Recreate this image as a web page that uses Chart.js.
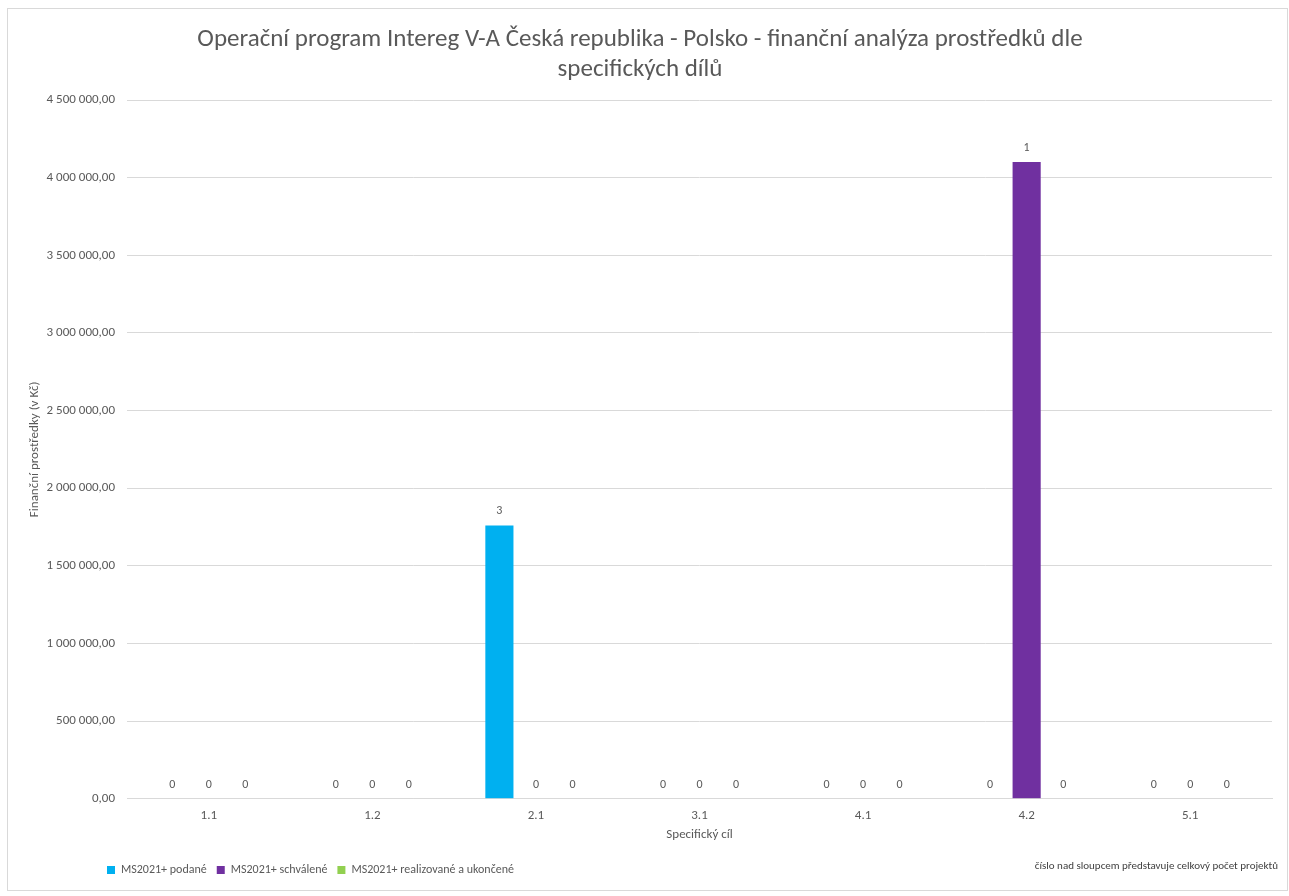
<!DOCTYPE html>
<html>
<head>
<meta charset="utf-8">
<script src="https://cdn.jsdelivr.net/npm/chart.js@4/dist/chart.umd.min.js"></script>
<style>
    body { margin: 0; background: #ffffff; }
    .chart-box {
        position: absolute;
        left: 7px;
        top: 8px;
        width: 1279px;
        height: 881px;
        border: 1px solid #d9d9d9;
    }
</style>
</head>
<body>
<div class="chart-box">
    <canvas id="cil-chart" width="1279" height="881"></canvas>
</div>
<script>
const categories = ["1.1", "1.2", "2.1", "3.1", "4.1", "4.2", "5.1"];

const podaneValues = [0, 0, 1760000, 0, 0, 0, 0];
const schvaleneValues = [0, 0, 0, 0, 0, 4100000, 0];
const realizovaneValues = [0, 0, 0, 0, 0, 0, 0];

// number of projects shown above each bar
const podaneCounts = [0, 0, 3, 0, 0, 0, 0];
const schvaleneCounts = [0, 0, 0, 0, 0, 1, 0];
const realizovaneCounts = [0, 0, 0, 0, 0, 0, 0];

const titleLines = [
    "Operační program Intereg V-A Česká republika - Polsko - finanční analýza prostředků dle",
    "specifických dílů"
];
const noteText = "číslo nad sloupcem představuje celkový počet projektů";

const fontFamily = "Carlito, 'Liberation Sans Narrow', 'Open Sans', sans-serif";
const textColor = "#595959";

function formatCz(value) {
    const parts = value.toFixed(2).split(".");
    const intPart = parts[0].replace(/\B(?=(\d{3})+(?!\d))/g, " ");
    return intPart + "," + parts[1];
}

const countLabels = {
    id: "countLabels",
    afterDatasetsDraw(chart) {
        const ctx = chart.ctx;
        ctx.save();
        ctx.font = "12px " + fontFamily;
        ctx.fillStyle = textColor;
        ctx.textAlign = "center";
        ctx.textBaseline = "middle";
        chart.data.datasets.forEach((dataset, i) => {
            const meta = chart.getDatasetMeta(i);
            meta.data.forEach((bar, j) => {
                ctx.fillText(String(dataset.counts[j]), bar.x, bar.y - 14);
            });
        });
        ctx.restore();
    }
};

const footNote = {
    id: "footNote",
    afterLayout(chart) {
        // Excel legend starts a bit to the right
        chart.legend.left += 89;
    },
    afterDraw(chart) {
        const ctx = chart.ctx;
        ctx.save();
        ctx.font = "11px " + fontFamily;
        ctx.fillStyle = "#404040";
        ctx.textAlign = "right";
        ctx.textBaseline = "middle";
        ctx.fillText(noteText, 1270, 857);
        ctx.restore();
    }
};

const ctx = document.getElementById("cil-chart").getContext("2d");

new Chart(ctx, {
    type: "bar",
    data: {
        labels: categories,
        datasets: [{
            label: "MS2021+ podané",
            data: podaneValues,
            counts: podaneCounts,
            backgroundColor: "#00B0F0"
        }, {
            label: "MS2021+ schválené",
            data: schvaleneValues,
            counts: schvaleneCounts,
            backgroundColor: "#7030A0"
        }, {
            label: "MS2021+ realizované a ukončené",
            data: realizovaneValues,
            counts: realizovaneCounts,
            backgroundColor: "#92D050"
        }]
    },
    options: {
        responsive: false,
        animation: false,
        categoryPercentage: 0.67,
        barPercentage: 0.77,
        layout: {
            padding: { left: 0, right: 15, top: 0, bottom: 4 }
        },
        plugins: {
            title: {
                display: true,
                text: titleLines,
                color: textColor,
                padding: { top: 16, bottom: 15 },
                font: {
                    size: 25,
                    family: fontFamily,
                    weight: "normal",
                    lineHeight: 1.2
                }
            },
            legend: {
                position: "bottom",
                align: "start",
                labels: {
                    boxWidth: 8,
                    boxHeight: 8,
                    color: textColor,
                    padding: 10,
                    font: {
                        size: 12,
                        family: fontFamily
                    }
                }
            },
            tooltip: { enabled: false }
        },
        scales: {
            x: {
                grid: { display: false },
                border: { color: "#d9d9d9", width: 1 },
                ticks: {
                    color: textColor,
                    padding: 1,
                    font: { size: 13, family: fontFamily }
                },
                title: {
                    display: true,
                    text: "Specifický cíl",
                    color: textColor,
                    padding: { top: 3, bottom: 11 },
                    font: { size: 13, family: fontFamily }
                }
            },
            y: {
                min: 0,
                max: 4500000,
                afterFit: scale => { scale.width = 119; },
                grid: {
                    color: "#d9d9d9",
                    drawTicks: false
                },
                border: { display: false },
                ticks: {
                    stepSize: 500000,
                    color: textColor,
                    padding: 12,
                    font: { size: 13, family: fontFamily },
                    callback: value => formatCz(value)
                },
                title: {
                    display: true,
                    text: "Finanční prostředky (v Kč)",
                    color: textColor,
                    padding: { top: 19, bottom: 4 },
                    font: { size: 13, family: fontFamily }
                }
            }
        }
    },
    plugins: [countLabels, footNote]
});
</script>
</body>
</html>
